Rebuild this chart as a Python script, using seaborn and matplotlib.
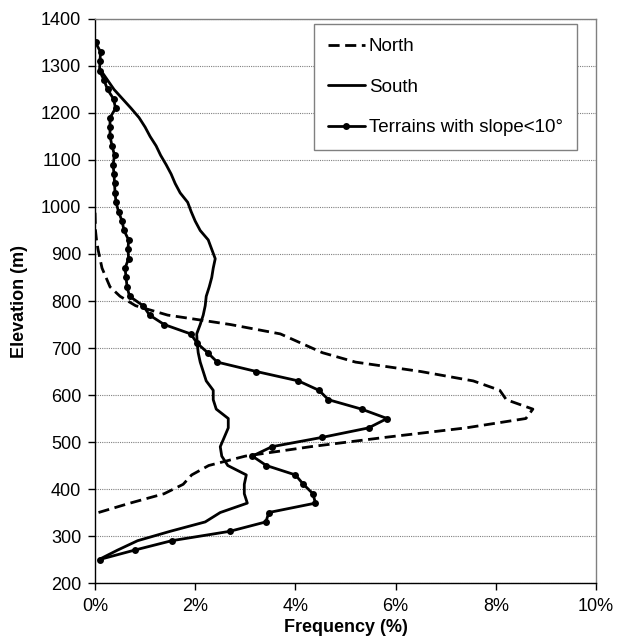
import numpy as np
import pandas as pd
import seaborn as sns
import matplotlib
matplotlib.use("Agg")
import matplotlib.pyplot as plt
from matplotlib.ticker import FuncFormatter, MultipleLocator

# elevation (m) and frequency (%)
north_elev = [350, 370, 390, 410, 430, 450, 470, 490, 510, 530, 550, 570, 590, 610,
              630, 650, 670, 690, 710, 730, 750, 770, 790, 810, 830, 850, 870, 890,
              910, 930, 950, 970, 990, 1000]
north_freq = [0.07, 0.70, 1.38, 1.76, 1.93, 2.27, 3.00, 4.30, 5.80, 7.40, 8.60, 8.74, 8.21, 8.08,
              7.55, 6.50, 5.20, 4.54, 4.12, 3.70, 2.70, 1.45, 0.81, 0.50, 0.30, 0.22, 0.14, 0.10,
              0.06, 0.03, 0.01, 0.005, 0.0, 0.0]

south_elev = [250, 270, 290, 310, 330, 350, 370, 390, 410, 430, 450, 470, 490, 510,
              530, 550, 570, 590, 610, 630, 650, 670, 690, 710, 730, 750, 770, 790,
              810, 830, 850, 870, 890, 910, 930, 950, 970, 990, 1010, 1030, 1050, 1070,
              1090, 1110, 1130, 1150, 1170, 1190, 1210, 1230, 1250, 1270, 1290]
south_freq = [0.08, 0.45, 0.85, 1.50, 2.20, 2.50, 3.04, 2.98, 2.98, 3.02, 2.65, 2.53, 2.50, 2.58,
              2.66, 2.66, 2.42, 2.36, 2.36, 2.22, 2.16, 2.10, 2.06, 2.04, 2.03, 2.10, 2.16, 2.20,
              2.22, 2.28, 2.33, 2.36, 2.40, 2.33, 2.26, 2.10, 2.00, 1.92, 1.85, 1.70, 1.60, 1.52,
              1.42, 1.31, 1.22, 1.10, 1.00, 0.88, 0.72, 0.55, 0.38, 0.25, 0.12]

flat_elev = [250, 270, 290, 310, 330, 350, 370, 390, 410, 430, 450, 470, 490, 510,
             530, 550, 570, 590, 610, 630, 650, 670, 690, 710, 730, 750, 770, 790,
             810, 830, 850, 870, 890, 910, 930, 950, 970, 990, 1010, 1030, 1050, 1070,
             1090, 1110, 1130, 1150, 1170, 1190, 1210, 1230, 1250, 1270, 1290, 1310, 1330, 1350]
flat_freq = [0.09, 0.79, 1.53, 2.69, 3.41, 3.47, 4.40, 4.35, 4.16, 4.00, 3.42, 3.14, 3.53, 4.54,
             5.46, 5.83, 5.32, 4.66, 4.47, 4.06, 3.22, 2.44, 2.25, 2.04, 1.91, 1.38, 1.09, 0.96,
             0.69, 0.64, 0.62, 0.60, 0.67, 0.66, 0.67, 0.58, 0.54, 0.47, 0.42, 0.40, 0.39, 0.38,
             0.36, 0.39, 0.34, 0.30, 0.30, 0.30, 0.41, 0.37, 0.25, 0.18, 0.09, 0.10, 0.11, 0.01]

sns.set_style("white")
plt.rcParams['font.family'] = ['Liberation Sans', 'DejaVu Sans']
plt.rcParams.update({"text.color": "black", "axes.labelcolor": "black",
                     "xtick.color": "black", "ytick.color": "black"})

fig = plt.figure(figsize=(6.25, 6.39), dpi=100)
ax = fig.add_axes([0.152, 0.0876, 0.8016, 0.8827])

sns.lineplot(x=north_freq, y=north_elev, sort=False, estimator=None, ax=ax,
             color="black", lw=2, linestyle=(0, (4, 2)), label="North")
sns.lineplot(x=south_freq, y=south_elev, sort=False, estimator=None, ax=ax,
             color="black", lw=2, label="South")
sns.lineplot(x=flat_freq, y=flat_elev, sort=False, estimator=None, ax=ax,
             color="black", lw=2, marker="o", markersize=5, markeredgewidth=0,
             label="Terrains with slope<10°")

ax.set_xlim(0, 10)
ax.set_ylim(200, 1400)
ax.xaxis.set_major_locator(MultipleLocator(2))
ax.yaxis.set_major_locator(MultipleLocator(100))
ax.xaxis.set_major_formatter(FuncFormatter(lambda v, p: f"{v:.0f}%"))

ax.grid(axis="y", color="#808080", linestyle=(0, (1, 1)), linewidth=0.8)
ax.grid(axis="x", visible=False)
ax.set_axisbelow(True)

for side in ["top", "right"]:
    ax.spines[side].set_color("#808080")
    ax.spines[side].set_linewidth(1)
for side in ["left", "bottom"]:
    ax.spines[side].set_color("black")
    ax.spines[side].set_linewidth(1)

ax.tick_params(axis="both", direction="out", length=5, width=1, color="black",
               labelsize=13, left=True, bottom=True)
ax.tick_params(axis="x", pad=6)
ax.tick_params(axis="y", pad=5)

ax.set_xlabel("Frequency (%)", fontsize=13, fontweight="bold", labelpad=3)
ax.set_ylabel("Elevation (m)", fontsize=13, fontweight="bold", labelpad=9)

leg = ax.legend(loc="upper right", bbox_to_anchor=(0.962, 0.991), fontsize=13.5,
                frameon=True, fancybox=False, framealpha=1, borderpad=0.75,
                labelspacing=1.25, handlelength=2.0, handletextpad=0.2,
                borderaxespad=0)
leg.get_frame().set_edgecolor("#808080")
leg.get_frame().set_linewidth(1)

fig.savefig("out.png", dpi=100)
